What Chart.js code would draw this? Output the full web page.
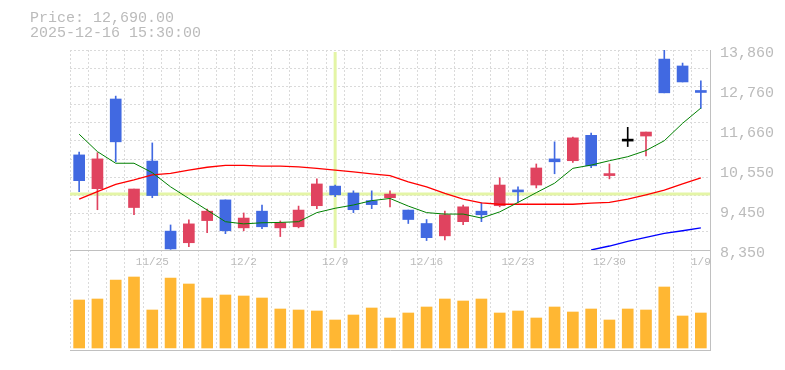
<!DOCTYPE html>
<html>
<head>
<meta charset="utf-8">
<script src="https://cdn.jsdelivr.net/npm/chart.js@4.4.1/dist/chart.umd.min.js"></script>
<style>
  html, body { margin: 0; padding: 0; background: #fff; }
  #wrap { position: relative; width: 785px; height: 370px; }
  canvas { position: absolute; left: 0; }
  #priceChart { top: 0; }
  #volumeChart { top: 250px; }
  #info { position: absolute; left: 30px; top: 11px; font: 15px/15px "Liberation Mono", monospace; color: #bbb; white-space: pre; }
</style>
</head>
<body>
<div id="wrap">
  <canvas id="volumeChart" width="785" height="120"></canvas>
  <canvas id="priceChart" width="785" height="270"></canvas>
  <div id="info">Price: 12,690.00
2025-12-16 15:30:00</div>
</div>
<script>
// trading days, 2025-11-18 .. 2026-01-09
const dates = ["11/18", "11/19", "11/20", "11/21", "11/25", "11/26", "11/27", "11/28", "12/1", "12/2",
  "12/3", "12/4", "12/5", "12/8", "12/9", "12/10", "12/11", "12/12", "12/15", "12/16",
  "12/17", "12/18", "12/19", "12/22", "12/23", "12/24", "12/25", "12/26", "12/29", "12/30",
  "1/5", "1/6", "1/7", "1/8", "1/9"];

const openP = [10970, 10040, 12510, 9520, 10800, 8870, 8550, 9160, 9730, 8960,
  9420, 8960, 8990, 9570, 10110, 9920, 9710, 9790, 9450, 9080,
  8740, 9130, 9420, 9570, 10000, 10140, 10860, 10810, 11510, 10400,
  11350, 11490, 13610, 13420, 12730];
const highP = [11050, 11030, 12590, 10030, 11300, 9040, 9180, 9480, 9730, 9370,
  9590, 9150, 9560, 10310, 10140, 9980, 9980, 9980, 9450, 9190,
  9420, 9590, 9650, 10340, 10090, 10720, 11330, 11460, 11570, 10720,
  11730, 11600, 13860, 13500, 13010];
const lowP = [9960, 9460, 10780, 9320, 9790, 8370, 8440, 8830, 8800, 8880,
  8940, 8720, 8960, 9490, 9820, 9380, 9490, 9540, 9080, 8610,
  8630, 9050, 9130, 9540, 9670, 10060, 10450, 10760, 10620, 10310,
  11200, 10940, 12680, 12980, 12250];
const closeP = [10260, 10860, 11330, 10030, 9850, 8380, 9070, 9420, 8880, 9230,
  8990, 9100, 9450, 10170, 9870, 9460, 9600, 9890, 9190, 8690,
  9320, 9540, 9320, 10140, 9950, 10610, 10780, 11440, 10670, 10440,
  11350, 11600, 12680, 12980, 12690];

// moving averages
const ma5 = [11540, 11060, 10740, 10740, 10480, 10090, 9770, 9450, 9130, 9070,
  9100, 9110, 9130, 9380, 9500, 9590, 9710, 9770, 9560, 9380,
  9340, 9340, 9230, 9400, 9660, 9930, 10190, 10600, 10690, 10810,
  10920, 11090, 11360, 11840, 12260];
const ma25 = [9750, 9960, 10160, 10280, 10420, 10460, 10550, 10630, 10680, 10680,
  10660, 10660, 10640, 10600, 10550, 10500, 10450, 10400, 10230, 10090,
  9910, 9750, 9650, 9610, 9610, 9610, 9610, 9610, 9640, 9660,
  9750, 9870, 10000, 10170, 10340];
const ma75 = [null, null, null, null, null, null, null, null, null, null,
  null, null, null, null, null, null, null, null, null, null,
  null, null, null, null, null, null, null, null, 8350, 8460,
  8590, 8700, 8810, 8880, 8960];

// volume (thousand shares)
const volume = [480, 490, 680, 710, 380, 700, 640, 500, 530, 520,
  500, 390, 380, 370, 280, 330, 400, 300, 350, 410,
  490, 470, 490, 350, 370, 300, 410, 360, 390, 280,
  390, 380, 610, 320, 350];

const priceTicks = [8350, 9452, 10554, 11656, 12758, 13860];
const crossDate = "12/9";
const crossPrice = 9890;

const UP = "#e0435f";
const DOWN = "#4169e1";
const EVEN = "#000000";
const GRID = "#dadada";
const EDGE = "#c0c0c0";
const TEXT = "#bbbbbb";
const FONT = "'Liberation Mono', monospace";

const candleColor = dates.map((d, i) =>
  closeP[i] > openP[i] ? UP : (closeP[i] < openP[i] ? DOWN : EVEN));

const crosshair = {
  id: "crosshair",
  beforeDatasetsDraw(chart) {
    const { ctx, chartArea: a, scales } = chart;
    const px = scales.x.getPixelForValue(dates.indexOf(crossDate));
    const py = scales.y.getPixelForValue(crossPrice);
    ctx.save();
    ctx.strokeStyle = "#e4f5a6";
    ctx.lineWidth = 3;
    ctx.beginPath();
    ctx.moveTo(a.left, py);
    ctx.lineTo(a.right, py);
    ctx.moveTo(px, a.top + 2);
    ctx.lineTo(px, a.bottom - 2);
    ctx.stroke();
    ctx.restore();
  }
};

new Chart(document.getElementById("priceChart"), {
  type: "bar",
  data: {
    labels: dates,
    datasets: [
      { type: "line", data: ma5, borderColor: "#008000", borderWidth: 1, pointRadius: 0, order: 1 },
      { type: "line", data: ma25, borderColor: "#ff0000", borderWidth: 1.3, pointRadius: 0, order: 1 },
      { type: "line", data: ma75, borderColor: "#0000ff", borderWidth: 1.3, pointRadius: 0, order: 1 },
      {
        data: dates.map((d, i) => [openP[i], closeP[i]]),
        backgroundColor: candleColor, barThickness: 11, minBarLength: 2, grouped: false, order: 2
      },
      {
        data: dates.map((d, i) => [lowP[i], highP[i]]),
        backgroundColor: candleColor, barThickness: 1, grouped: false, order: 3
      }
    ]
  },
  options: {
    responsive: false,
    animation: false,
    layout: { padding: { left: 70, top: 50, right: 0, bottom: 0 } },
    plugins: { legend: { display: false }, tooltip: { enabled: false } },
    scales: {
      x: {
        offset: true,
        grid: { offset: true, color: GRID, drawTicks: false },
        border: { display: true, color: EDGE, dash: [2, 2] },
        ticks: {
          autoSkip: false, maxRotation: 0, padding: 5, color: TEXT,
          font: { family: FONT, size: 11 },
          callback: (v, i) => (i % 5 === 4 ? dates[i] : "")
        },
        afterFit: s => { s.height = 20; }
      },
      y: {
        position: "right", weight: 0, min: 8350, max: 13860,
        grid: { color: GRID, drawTicks: false },
        border: { display: true, color: EDGE, dash: [2, 2] },
        ticks: { display: false },
        afterBuildTicks: s => {
          const step = (s.max - s.min) / 11;
          s.ticks = Array.from({ length: 12 }, (_, k) => ({ value: s.min + k * step }));
        },
        afterFit: s => { s.width = 0; }
      },
      y2: {
        position: "right", weight: 1, min: 8350, max: 13860,
        grid: { display: false, drawTicks: false },
        border: { display: false },
        ticks: {
          color: TEXT, padding: 10, labelOffset: 3,
          font: { family: FONT, size: 15 },
          callback: v => (Math.round(v / 10) * 10).toLocaleString("en-US")
        },
        afterBuildTicks: s => { s.ticks = priceTicks.map(v => ({ value: v })); },
        afterFit: s => { s.width = 75; }
      }
    }
  },
  plugins: [crosshair]
});

new Chart(document.getElementById("volumeChart"), {
  type: "bar",
  data: {
    labels: dates,
    datasets: [{ data: volume, backgroundColor: "#ffb733", barThickness: 11 }]
  },
  options: {
    responsive: false,
    animation: false,
    layout: { padding: { left: 70, top: 0, right: 0, bottom: 20 } },
    plugins: { legend: { display: false }, tooltip: { enabled: false } },
    scales: {
      x: {
        offset: true,
        grid: { offset: true, color: GRID, drawTicks: false },
        border: { display: true, color: EDGE, dash: [2, 2] },
        ticks: { display: false },
        afterFit: s => { s.height = 0; }
      },
      y: {
        position: "right", min: -20, max: 980,
        grid: { display: false },
        border: { display: true, color: EDGE },
        ticks: { display: false },
        afterFit: s => { s.width = 75; }
      }
    }
  }
});
</script>
</body>
</html>
